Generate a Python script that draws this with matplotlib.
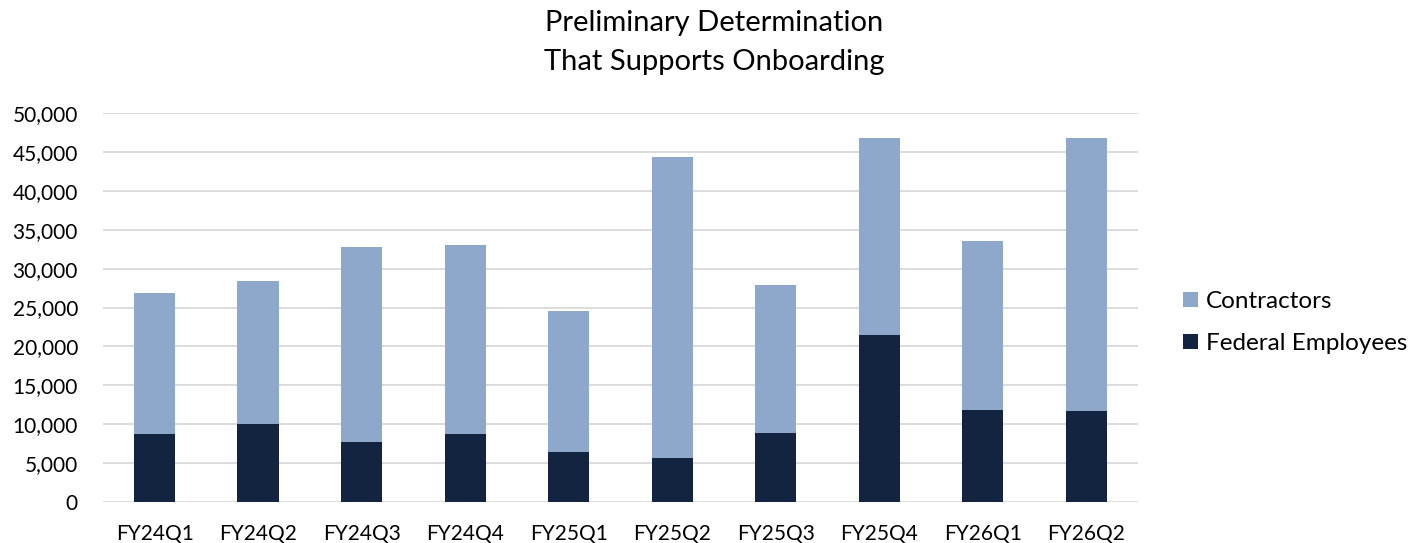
import matplotlib as mpl
mpl.use('Agg')
import matplotlib.pyplot as plt
import numpy as np

quarters = ['FY24Q1', 'FY24Q2', 'FY24Q3', 'FY24Q4', 'FY25Q1',
            'FY25Q2', 'FY25Q3', 'FY25Q4', 'FY26Q1', 'FY26Q2']
federal = [8700, 10050, 7700, 8700, 6400, 5650, 8900, 21500, 11800, 11650]
totals = [26900, 28450, 32850, 33050, 24500, 44400, 27850, 46800, 33500, 46800]
contractors = [t - f for t, f in zip(totals, federal)]

plt.rcParams['font.family'] = ['Lato', 'DejaVu Sans']

fig = plt.figure(figsize=(14.14, 5.43), dpi=100)
ax = fig.add_axes([0.0728, 0.076, 0.732, 0.7153])

x = np.arange(len(quarters))
ax.bar(x, federal, width=0.4, color='#12243F', label='Federal Employees', zorder=3)
ax.bar(x, contractors, width=0.4, bottom=federal, color='#8EA8CB',
       label='Contractors', zorder=3)

ax.set_xlim(-0.5, len(quarters) - 0.5)
ax.set_ylim(0, 50000)
ax.set_yticks(np.arange(0, 50001, 5000))
ax.yaxis.set_major_formatter(mpl.ticker.FuncFormatter(lambda v, p: f'{int(v):,}'))
ax.set_xticks(x)
ax.set_xticklabels(quarters)
ax.grid(axis='y', color='#D9D9D9', linewidth=1.3, zorder=0)
for s in ax.spines.values():
	s.set_visible(False)
ax.tick_params(length=0, colors='black')
ax.tick_params(axis='y', labelsize=15, pad=18)
ax.tick_params(axis='x', labelsize=15, pad=16)

fig.text(0.505, 0.922, 'Preliminary Determination\nThat Supports Onboarding',
         ha='center', va='center', fontsize=21, linespacing=1.65)

handles, labels = ax.get_legend_handles_labels()
fig.legend(handles[::-1], labels[::-1], loc='center left',
           bbox_to_anchor=(0.8366, 0.406), frameon=False, fontsize=17.5,
           borderpad=0, borderaxespad=0,
           handlelength=0.6, handleheight=0.6, handletextpad=0.35,
           labelspacing=0.85)

fig.savefig('out.png')
